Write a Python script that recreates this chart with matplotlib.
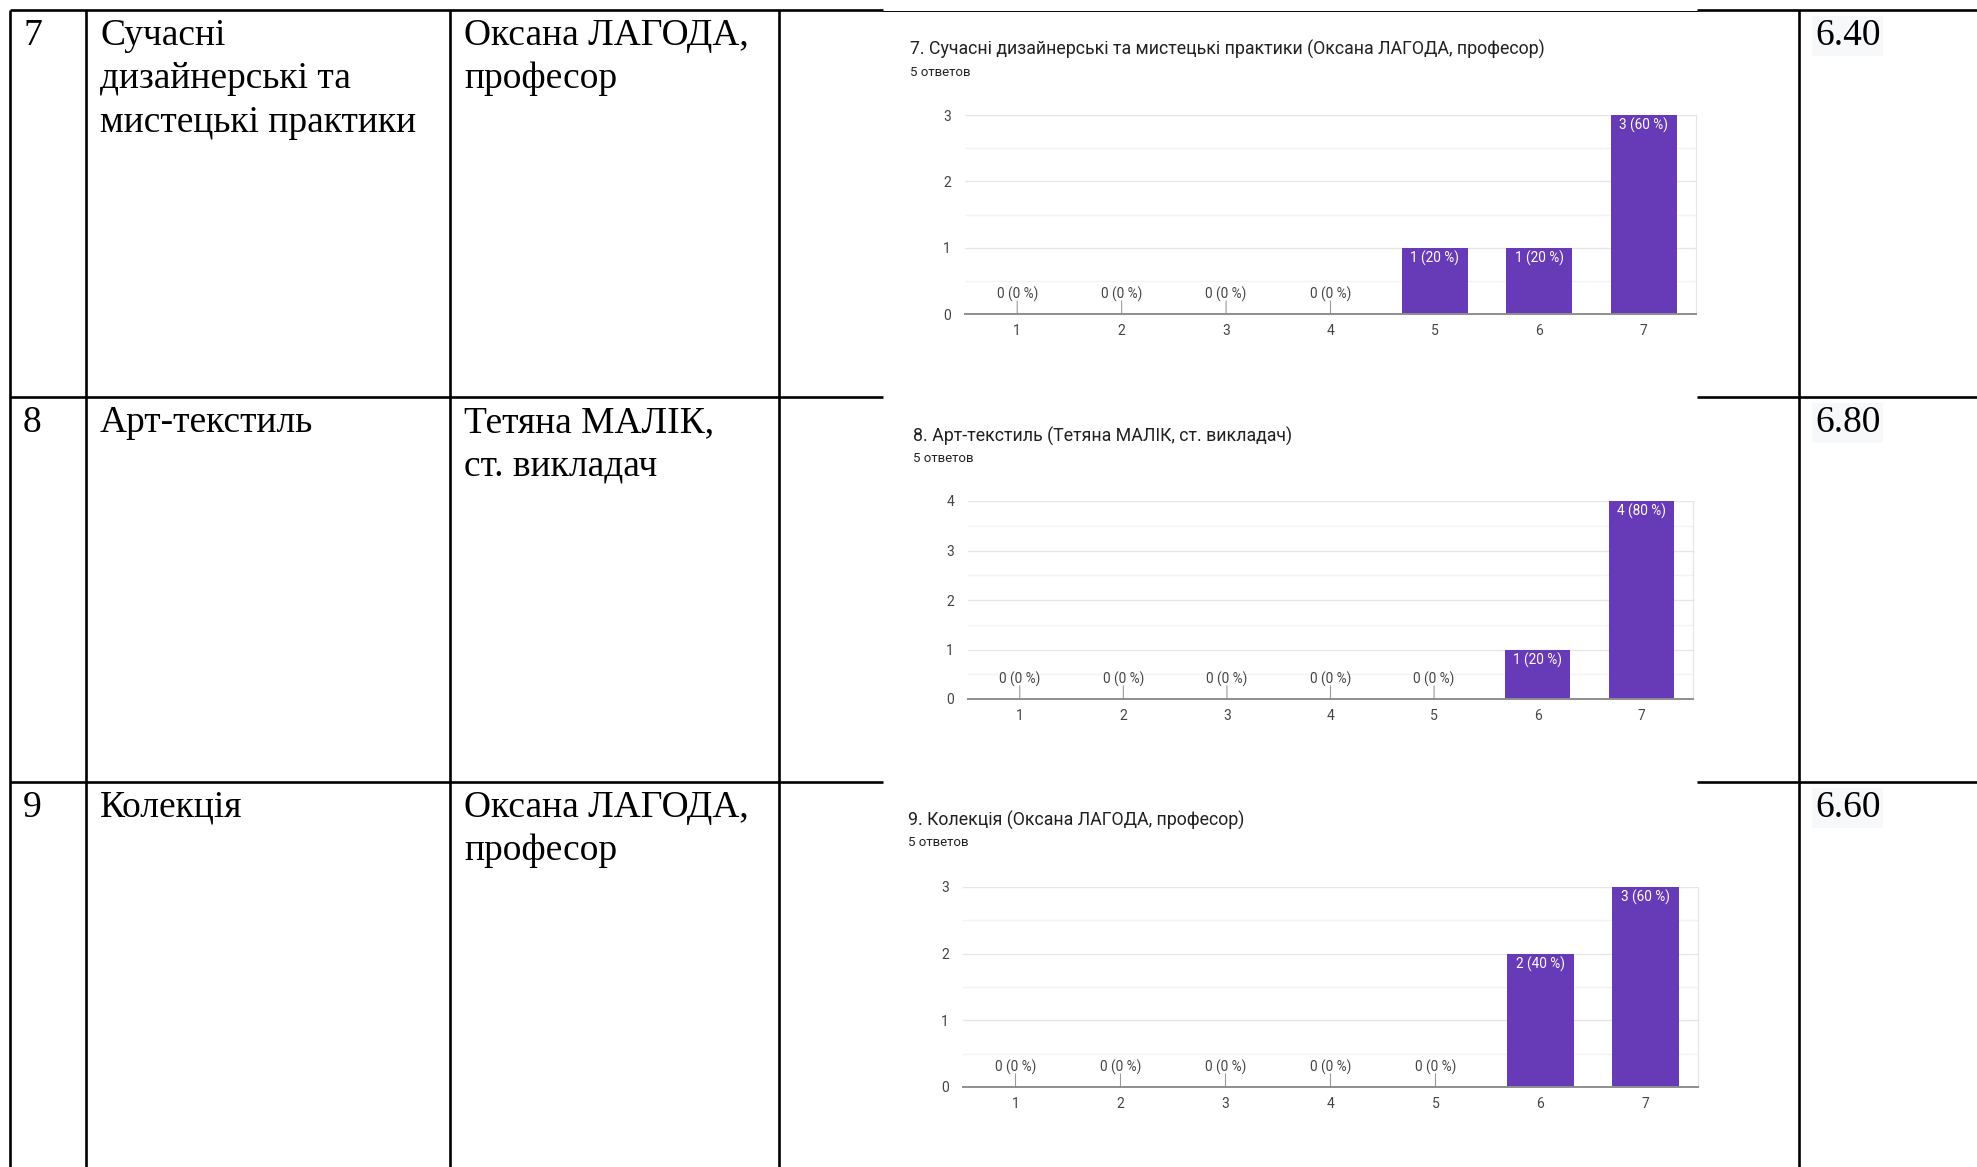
import numpy as np
import matplotlib
matplotlib.use('Agg')
import matplotlib.pyplot as plt

W, H = 1977, 1167
DPI = 100

# ---------------- table data ----------------
row_nums = ['7', '8', '9']
disciplines = [['Сучасні', 'дизайнерські та', 'мистецькі практики'],
               ['Арт-текстиль'],
               ['Колекція']]
teachers = [['Оксана ЛАГОДА,', 'професор'],
            ['Тетяна МАЛІК,', 'ст. викладач'],
            ['Оксана ЛАГОДА,', 'професор']]
scores = ['6.40', '6.80', '6.60']

# ---------------- chart data ----------------
grades = [1, 2, 3, 4, 5, 6, 7]
counts_7 = [0, 0, 0, 0, 1, 1, 3]
counts_8 = [0, 0, 0, 0, 0, 1, 4]
counts_9 = [0, 0, 0, 0, 0, 2, 3]
n_answers = 5
titles = ['7. Сучасні дизайнерські та мистецькі практики (Оксана ЛАГОДА, професор)',
          '8. Арт-текстиль (Тетяна МАЛІК, ст. викладач)',
          '9. Колекція (Оксана ЛАГОДА, професор)']
subtitle = '5 ответов'

# layout (pixels)
row_tops = [10, 397, 782]
col_lines = [10, 86, 450, 779, 1799]
text_x = [23, 100, 464, 1815]
line_h = 43.5
first_base = 35
chart_boxes = [(965, 115, 1696, 314), (968, 501, 1693, 699), (963, 887, 1698, 1087)]
title_pos = [(910, 49), (913, 436), (908, 820)]
gap = (883, 1697)

serif = 'Liberation Serif'
sans = 'Roboto'
purple = '#673ab7'
lw_tab = 1.9
fs_tab = 27

fig = plt.figure(figsize=(W / DPI, H / DPI), dpi=DPI)
bg = fig.add_axes([0, 0, 1, 1])
bg.set_xlim(0, W)
bg.set_ylim(H, 0)
bg.axis('off')

############ table lines ############
for x in col_lines:
    bg.plot([x, x], [row_tops[0], H], color='black', lw=lw_tab, solid_capstyle='butt')
for i, y in enumerate(row_tops):
    bg.plot([col_lines[0], gap[0]], [y, y], color='black', lw=lw_tab, solid_capstyle='butt')
    bg.plot([gap[1], W], [y, y], color='black', lw=lw_tab, solid_capstyle='butt')
    if i == 0:
        bg.plot([gap[0], gap[1]], [y + 1, y + 1], color='black', lw=0.7)

############ table text ############
for i, top in enumerate(row_tops):
    base = top + first_base
    bg.text(text_x[0], base, row_nums[i], family=serif, fontsize=fs_tab, va='baseline')
    for k, line in enumerate(disciplines[i]):
        bg.text(text_x[1], base + k * line_h, line, family=serif, fontsize=fs_tab, va='baseline')
    for k, line in enumerate(teachers[i]):
        bg.text(text_x[2], base + k * line_h, line, family=serif, fontsize=fs_tab, va='baseline')
    bg.text(text_x[3], base, scores[i], family=serif, fontsize=fs_tab, va='baseline',
            bbox=dict(facecolor='#f7f8fa', edgecolor='none', pad=2))

############ charts ############
all_counts = [counts_7, counts_8, counts_9]
for i, counts in enumerate(all_counts):
    l, t, r, b = chart_boxes[i]
    ax = fig.add_axes([l / W, 1 - b / H, (r - l) / W, (b - t) / H])
    ymax = max(counts)
    ax.bar(grades, counts, width=0.63, color=purple, zorder=3)
    ax.set_xlim(0.5, 7.5)
    ax.set_ylim(0, ymax)
    ax.set_xticks(grades)
    ax.set_yticks(range(0, ymax + 1))
    ax.set_yticks(np.arange(0.5, ymax, 1.0), minor=True)
    ax.tick_params(axis='both', which='both', length=0, labelsize=10, labelcolor='#444444')
    ax.tick_params(axis='x', pad=7.5)
    ax.tick_params(axis='y', pad=10)
    for lab in ax.get_xticklabels() + ax.get_yticklabels():
        lab.set_family(sans)
    ax.grid(axis='y', which='major', color='#e6e6e6', lw=1.0, zorder=0)
    ax.grid(axis='y', which='minor', color='#f3f3f3', lw=1.0, zorder=0)
    for s in ['top', 'left']:
        ax.spines[s].set_visible(False)
    ax.spines['right'].set_color('#e4e4e4')
    ax.spines['right'].set_linewidth(0.8)
    ax.spines['bottom'].set_color('#8e8e8e')
    ax.spines['bottom'].set_linewidth(1.4)
    ax.spines['bottom'].set_zorder(4)

    for g, c in zip(grades, counts):
        label = '{} ({} %)'.format(c, int(round(c * 100 / n_answers)))
        if c == 0:
            ax.annotate('', xy=(g, 0), xytext=(0, 9.5), textcoords='offset points',
                        arrowprops=dict(arrowstyle='-', color='#9a9a9a', lw=0.8,
                                        shrinkA=0, shrinkB=0))
            ax.annotate(label, xy=(g, 0), xytext=(0, 14.5), textcoords='offset points',
                        ha='center', va='center', fontsize=9.8, color='#444444', family=sans)
        else:
            ax.annotate(label, xy=(g, c), xytext=(0, -7.5), textcoords='offset points',
                        ha='center', va='center', fontsize=9.8, color='white', family=sans,
                        zorder=5)

    tx, ty = title_pos[i]
    bg.text(tx, ty, titles[i], family=sans, fontsize=12.8, color='#212121', va='center')
    bg.text(tx, ty + 23, subtitle, family=sans, fontsize=9.5, color='#212121', va='center')

fig.savefig('out.png', dpi=DPI)
